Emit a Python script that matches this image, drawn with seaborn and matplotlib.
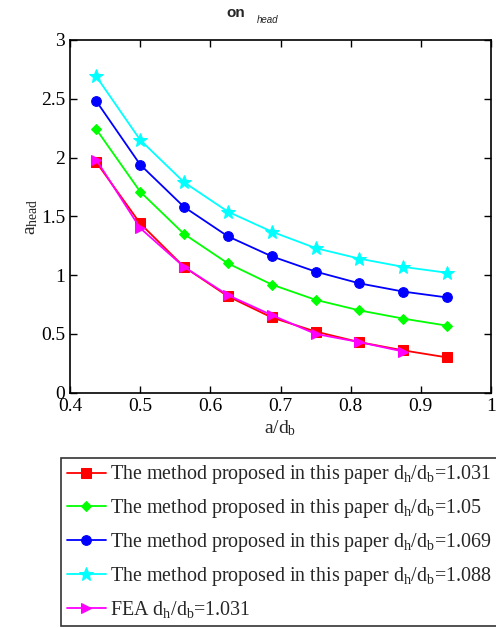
import matplotlib
matplotlib.use("Agg")
import matplotlib.pyplot as plt
import seaborn as sns
import pandas as pd

# ---- data ----
x_ratio = [0.4375, 0.5, 0.5625, 0.625, 0.6875, 0.75, 0.8125, 0.875, 0.9375]
x_fea = [0.4375, 0.5, 0.5625, 0.625, 0.6875, 0.75, 0.8125, 0.875]
paper_1031 = [1.96, 1.44, 1.07, 0.82, 0.64, 0.52, 0.43, 0.36, 0.30]
paper_105 = [2.24, 1.71, 1.35, 1.10, 0.92, 0.79, 0.70, 0.63, 0.57]
paper_1069 = [2.48, 1.94, 1.58, 1.33, 1.16, 1.03, 0.93, 0.86, 0.81]
paper_1088 = [2.69, 2.15, 1.79, 1.54, 1.37, 1.23, 1.14, 1.07, 1.02]
fea_1031 = [1.98, 1.40, 1.07, 0.83, 0.66, 0.50, 0.43, 0.35]

labels = [
    r"The method proposed in this paper d$_\mathregular{h}$/d$_\mathregular{b}$=1.031",
    r"The method proposed in this paper d$_\mathregular{h}$/d$_\mathregular{b}$=1.05",
    r"The method proposed in this paper d$_\mathregular{h}$/d$_\mathregular{b}$=1.069",
    r"The method proposed in this paper d$_\mathregular{h}$/d$_\mathregular{b}$=1.088",
    r"FEA d$_\mathregular{h}$/d$_\mathregular{b}$=1.031",
]
x_ticks = [0.4, 0.5, 0.6, 0.7, 0.8, 0.9, 1]
y_ticks = [0, 0.5, 1, 1.5, 2, 2.5, 3]

sns.set_style("ticks")
plt.rcParams["font.family"] = ["Liberation Serif", "DejaVu Serif"]
plt.rcParams["mathtext.fontset"] = "custom"
plt.rcParams["mathtext.rm"] = "Liberation Serif"
plt.rcParams["mathtext.it"] = "Liberation Serif:italic"

fig = plt.figure(figsize=(4.96, 6.29), dpi=100)
ax = fig.add_axes([70/496, 1-392.7/629, 421/496, 352.7/629])

series = [
    (x_ratio, paper_1031, "#ff0000", "s", 6.5),
    (x_ratio, paper_105, "#00ff00", "D", 5.5),
    (x_ratio, paper_1069, "#0000ff", "o", 7),
    (x_ratio, paper_1088, "#00ffff", "*", 10.5),
    (x_fea, fea_1031, "#ff00ff", ">", 7.5),
]
for (xs, ys, c, m, ms), lab in zip(series, labels):
    df = pd.DataFrame({"x": xs, "y": ys})
    sns.lineplot(data=df, x="x", y="y", ax=ax, color=c, marker=m, markersize=ms,
                 markeredgecolor=c, markerfacecolor=c, linewidth=1.3, label=lab)

ax.set_xlim(0.4, 1)
ax.set_ylim(0, 3)
ax.set_xticks(x_ticks)
ax.set_xticklabels(["0.4", "0.5", "0.6", "0.7", "0.8", "0.9", "1"])
ax.set_yticks(y_ticks)
ax.set_yticklabels(["0", "0.5", "1", "1.5", "2", "2.5", "3"])
ax.tick_params(direction="in", length=5, width=1, top=True, right=True,
               labelsize=14, colors="black")
ax.tick_params(axis="x", pad=4)
for s in ax.spines.values():
    s.set_visible(True)
    s.set_linewidth(1.2)
    s.set_color("black")
ax.set_xlabel(r"a/d$_\mathregular{b}$", fontsize=14, labelpad=2)
ax.set_ylabel(r"a$_\mathregular{head}$", fontsize=14, labelpad=1)

ax.legend_.remove()
handles, labs = ax.get_legend_handles_labels()
leg = fig.legend(handles, labs, loc="upper left",
                 bbox_to_anchor=(60.5/496, 1-457.5/629), bbox_transform=fig.transFigure,
                 fontsize=14.4, frameon=True, fancybox=False, handlelength=1.95,
                 handletextpad=0.25, labelspacing=0.54, borderaxespad=0,
                 borderpad=0.3)
leg.get_frame().set_edgecolor("black")
leg.get_frame().set_linewidth(1.2)

fig.text(236/496, 1-13/629, "on", fontsize=11, fontweight="bold",
         family=["Liberation Sans", "DejaVu Sans"], ha="center", va="center")
fig.text(268/496, 1-20/629, "head", fontsize=7, style="italic",
         family=["Liberation Sans", "DejaVu Sans"], ha="center", va="center")

fig.savefig("out.png", dpi=100)
